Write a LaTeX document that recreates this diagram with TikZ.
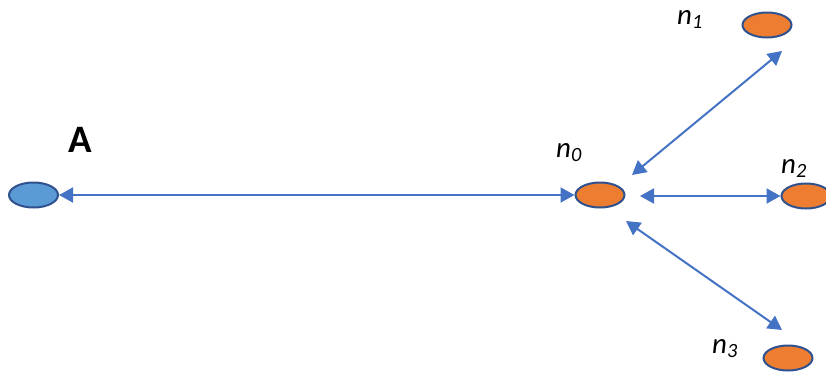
\documentclass[tikz,border=0pt]{standalone}
\usepackage{fontspec}
\setmainfont{Carlito}
\usetikzlibrary{arrows.meta,shapes.geometric}
\definecolor{orangefill}{HTML}{ED7D31}
\definecolor{bluefill}{HTML}{5B9BD5}
\definecolor{edgeblue}{HTML}{2F528F}
\definecolor{arrowblue}{HTML}{4472C4}
\begin{document}
\begin{tikzpicture}[x=1bp,y=-1bp,
  dot/.style={ellipse, draw=edgeblue, line width=2bp, minimum width=49bp, minimum height=25bp, inner sep=0pt},
  link/.style={draw=arrowblue, line width=2bp, {Triangle[length=14bp,width=15bp]}-{Triangle[length=14bp,width=15bp]}},
  lbl/.style={font=\fontsize{29}{29}\selectfont\itshape, inner sep=0pt, anchor=base west},
  biglbl/.style={font=\fontsize{39}{39}\selectfont\bfseries, inner sep=0pt, anchor=base west}]
\useasboundingbox (0,0) rectangle (826,374);
\node[dot, fill=bluefill] (A) at (33.5,195) {};
\node[dot, fill=orangefill] (n0) at (600,195) {};
\node[dot, fill=orangefill] (n1) at (767,25) {};
\node[dot, fill=orangefill] (n2) at (806,196) {};
\node[dot, fill=orangefill] (n3) at (788,358) {};
\node[biglbl] (lA) at (68,152) {A};
\node[lbl] (l0) at (556,157) {n\textsubscript{0}};
\node[lbl] (l1) at (677,24) {n\textsubscript{1}};
\node[lbl] (l2) at (781,173) {n\textsubscript{2}};
\node[lbl] (l3) at (712,353) {n\textsubscript{3}};
\coordinate (p01) at (632,175);
\coordinate (p1) at (782,51);
\coordinate (p02) at (640,196);
\coordinate (p03) at (626,221);
\coordinate (p3) at (782,330);
\draw[link] (A) -- (n0);
\draw[link] (p01) -- (p1);
\draw[link] (p02) -- (n2.west);
\draw[link] (p03) -- (p3);
\end{tikzpicture}
\end{document}
